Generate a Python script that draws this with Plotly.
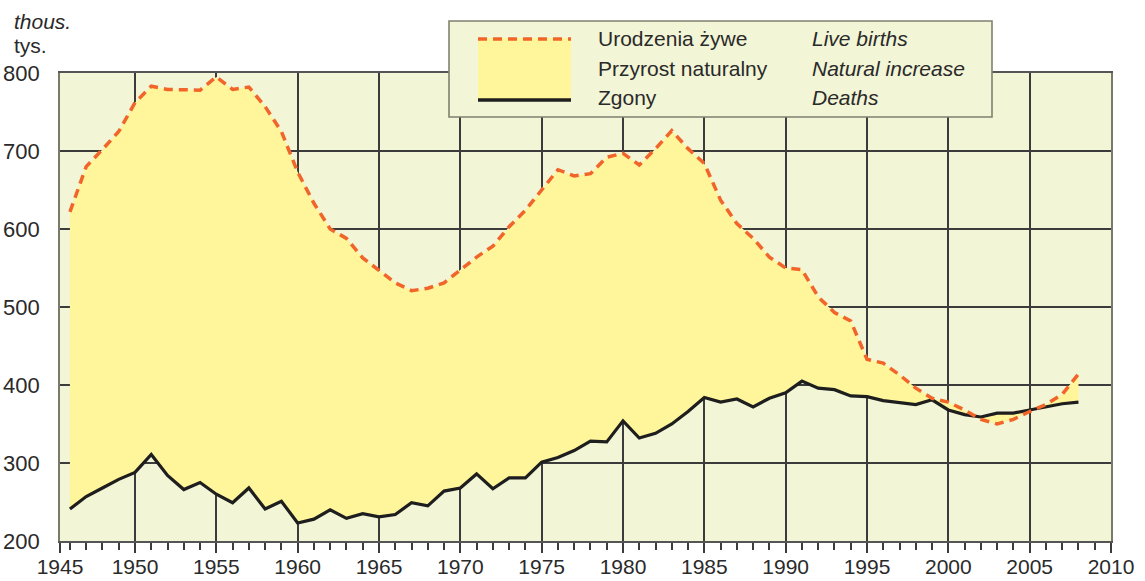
import plotly.graph_objects as go

years = [1946, 1947, 1948, 1949, 1950, 1951, 1952, 1953, 1954, 1955,
         1956, 1957, 1958, 1959, 1960, 1961, 1962, 1963, 1964, 1965,
         1966, 1967, 1968, 1969, 1970, 1971, 1972, 1973, 1974, 1975,
         1976, 1977, 1978, 1979, 1980, 1981, 1982, 1983, 1984, 1985,
         1986, 1987, 1988, 1989, 1990, 1991, 1992, 1993, 1994, 1995,
         1996, 1997, 1998, 1999, 2000, 2001, 2002, 2003, 2004, 2005,
         2006, 2007, 2008]

live_births = [622, 680, 702, 725, 762, 783, 779, 779, 778, 795,
               779, 782, 757, 725, 673, 633, 600, 588, 563, 547,
               531, 521, 524, 531, 548, 564, 578, 603, 624, 650,
               676, 668, 671, 692, 697, 682, 703, 726, 703, 684,
               637, 607, 588, 564, 550, 548, 513, 493, 482, 433,
               428, 413, 396, 383, 378, 368, 356, 350, 356, 366,
               375, 388, 414]

deaths = [241, 257, 268, 279, 288, 311, 284, 266, 275, 260,
          249, 268, 241, 251, 223, 228, 240, 229, 235, 231,
          234, 249, 245, 264, 268, 286, 267, 281, 281, 301,
          307, 316, 328, 327, 354, 332, 338, 350, 366, 384,
          378, 382, 372, 383, 390, 405, 396, 394, 386, 385,
          380, 378, 375, 381, 368, 362, 359, 364, 364, 368,
          372, 376, 378]

x_tick_labels = ["1945", "1950", "1955", "1960", "1965", "1970", "1975",
                 "1980", "1985", "1990", "1995", "2000", "2005", "2010"]
x_tick_values = [1945.39, 1950, 1955, 1960, 1965, 1970, 1975,
                 1980, 1985, 1990, 1995, 2000, 2005, 2010]
y_tick_values = [200, 300, 400, 500, 600, 700, 800]

legend_pl = ["Urodzenia żywe", "Przyrost naturalny", "Zgony"]
legend_en = ["Live births", "Natural increase", "Deaths"]

BG = "#F2F5D6"
FILL = "#FFF59B"
ORANGE = "#F1652A"
BLACK = "#1E1E1E"
GRID = "#3C3C3C"
FONT = "Liberation Sans Narrow, Arial Narrow, Liberation Sans, Arial, sans-serif"

W, H = 1145, 581
L, R, T, B = 60, 34, 73, 40
PW, PH = W - L - R, H - T - B


def px(x):
    return (x - L) / PW


def py(y):
    return (H - B - y) / PH


fig = go.Figure()
# invisible base for the fill
fig.add_trace(go.Scatter(x=years, y=deaths, mode="lines",
                         line=dict(width=0, color=BLACK),
                         showlegend=False, hoverinfo="skip"))
fig.add_trace(go.Scatter(x=years, y=live_births, mode="lines",
                         line=dict(width=0, color=ORANGE),
                         fill="tonexty", fillcolor=FILL,
                         name="Przyrost naturalny", showlegend=False))
fig.add_trace(go.Scatter(x=years, y=deaths, mode="lines",
                         line=dict(width=3.2, color=BLACK),
                         name="Zgony", showlegend=False))
fig.add_trace(go.Scatter(x=years, y=live_births, mode="lines",
                         line=dict(width=3.5, color=ORANGE, dash="9px,6px"),
                         name="Urodzenia żywe", showlegend=False))

fig.update_layout(
    width=W, height=H,
    margin=dict(l=L, r=R, t=T, b=B, pad=0, autoexpand=False),
    paper_bgcolor="white",
    plot_bgcolor=BG,
    font=dict(family=FONT, size=22, color="#2A2A2A"),
    showlegend=False,
)

fig.update_xaxes(
    range=[1945.39, 2010], automargin=False,
    tickmode="array", tickvals=x_tick_values, ticktext=x_tick_labels,
    showgrid=True, gridcolor=GRID, gridwidth=1.6,
    showline=True, linecolor="#555555", linewidth=1.6, mirror=True,
    ticks="outside", ticklen=10, tickwidth=1.6, tickcolor=GRID,
    ticklabelstandoff=-4,
    minor=dict(tickmode="linear", tick0=1946, dtick=1, ticks="outside",
               ticklen=7, tickwidth=1.5, tickcolor=GRID, showgrid=False),
    zeroline=False,
    tickfont=dict(size=21),
)
fig.update_yaxes(
    range=[200, 800], automargin=False,
    tickmode="array", tickvals=y_tick_values,
    showgrid=True, gridcolor=GRID, gridwidth=1.6,
    showline=True, linecolor="#7A7A6A", linewidth=1.6, mirror=True,
    ticks="", ticklabelstandoff=14,
    zeroline=False,
    tickfont=dict(size=22),
)

shapes = [
    dict(type="rect", xref="paper", yref="paper",
         x0=px(449), x1=px(992), y0=py(117), y1=py(21),
         fillcolor=BG, line=dict(color="#808070", width=1.6), layer="above"),
    dict(type="rect", xref="paper", yref="paper",
         x0=px(478), x1=px(571), y0=py(100), y1=py(38),
         fillcolor=FILL, line=dict(width=0), layer="above"),
    dict(type="line", xref="paper", yref="paper",
         x0=px(478), x1=px(571), y0=py(39), y1=py(39),
         line=dict(color=ORANGE, width=3.5, dash="9px,6px"), layer="above"),
    dict(type="line", xref="paper", yref="paper",
         x0=px(478), x1=px(571), y0=py(100), y1=py(100),
         line=dict(color=BLACK, width=3.5), layer="above"),
]
fig.update_layout(shapes=shapes)

ann = []
ys = [38, 68, 97]
for txt_pl, txt_en, yy in zip(legend_pl, legend_en, ys):
    ann.append(dict(text=txt_pl, xref="paper", yref="paper",
                    x=px(596), y=py(yy), xanchor="left", yanchor="middle",
                    showarrow=False, font=dict(size=21, family=FONT, color="#2A2A2A")))
    ann.append(dict(text="<i>" + txt_en + "</i>", xref="paper", yref="paper",
                    x=px(810), y=py(yy), xanchor="left", yanchor="middle",
                    showarrow=False, font=dict(size=21, family=FONT, color="#2A2A2A")))
ann.append(dict(text="<i>thous.</i>", xref="paper", yref="paper",
                x=px(12), y=py(22), xanchor="left", yanchor="middle",
                showarrow=False, font=dict(size=21, family=FONT, color="#2A2A2A")))
ann.append(dict(text="tys.", xref="paper", yref="paper",
                x=px(12), y=py(45), xanchor="left", yanchor="middle",
                showarrow=False, font=dict(size=21, family=FONT, color="#2A2A2A")))
fig.update_layout(annotations=ann)

fig.write_html(
    "out.html",
    config={"displayModeBar": False},
    post_script="document.documentElement.style.margin='0';"
                "document.body.style.margin='0';"
                "document.body.style.overflow='hidden';",
)
